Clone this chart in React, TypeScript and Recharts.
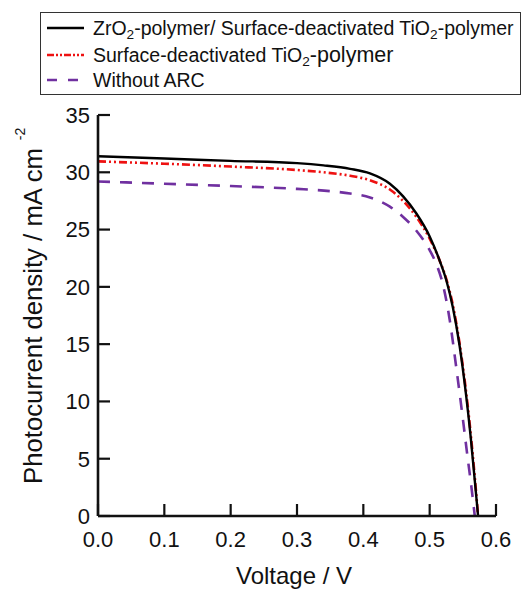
import React from 'react';
import { LineChart, Line, XAxis, YAxis, Legend } from 'recharts';

const vBlack = [0, 0.1, 0.2, 0.3, 0.34, 0.38, 0.41, 0.44, 0.46, 0.48, 0.5, 0.515, 0.525, 0.535, 0.545, 0.555, 0.562, 0.568, 0.573];
const jBlack = [31.4, 31.2, 31.0, 30.8, 30.6, 30.3, 29.9, 29.0, 27.9, 26.4, 24.4, 22.3, 20.6, 18.2, 14.9, 10.5, 6.8, 3.1, 0];

const vRed = [0, 0.1, 0.2, 0.3, 0.34, 0.38, 0.41, 0.44, 0.46, 0.48, 0.5, 0.515, 0.525, 0.535, 0.545, 0.555, 0.562, 0.568, 0.573];
const jRed = [30.95, 30.75, 30.5, 30.2, 30.0, 29.7, 29.3, 28.5, 27.5, 26.1, 24.2, 22.3, 20.7, 18.4, 15.1, 10.8, 7.1, 3.4, 0];

const vPurple = [0, 0.1, 0.2, 0.3, 0.35, 0.38, 0.41, 0.44, 0.46, 0.48, 0.5, 0.51, 0.52, 0.53, 0.54, 0.55, 0.557, 0.563, 0.568];
const jPurple = [29.2, 29.0, 28.8, 28.55, 28.35, 28.15, 27.8, 27.0, 26.1, 24.9, 23.2, 22.0, 20.2, 17.2, 13.0, 8.5, 5.2, 2.5, 0];

const xTicks = [0, 0.1, 0.2, 0.3, 0.4, 0.5, 0.6];
const yTicks = [0, 5, 10, 15, 20, 25, 30, 35];

const seriesNames = [
  'ZrO2-polymer/ Surface-deactivated TiO2-polymer',
  'Surface-deactivated TiO2-polymer',
  'Without ARC',
];

const build = (v: number[], j: number[]) => v.map((x, i) => ({ v: x, j: j[i] }));
const blackData = build(vBlack, jBlack);
const redData = build(vRed, jRed);
const purpleData = build(vPurple, jPurple);

const FONT = '"Liberation Sans", Arial, sans-serif';

const sub = (t: string) => <sub style={{ fontSize: '0.7em', verticalAlign: '-0.3em', lineHeight: 0 }}>{t}</sub>;

const legendRows = [
  { color: '#000', dash: undefined as string | undefined, label: <span>ZrO{sub('2')}-polymer/ Surface-deactivated TiO{sub('2')}-polymer</span> },
  { color: '#ee1111', dash: '7 2 2 2 2 2', label: <span>Surface-deactivated TiO{sub('2')}<span style={{ fontSize: 21.5 }}>-polymer</span></span> },
  { color: '#7030a0', dash: '10 11', label: <span>Without ARC</span> },
];

const renderLegend = () => (
  <div style={{ position: 'relative', width: 481, height: 83, border: '1.5px solid #333', boxSizing: 'border-box', fontFamily: FONT, fontSize: 19.5, color: '#111', background: '#fff' }}>
    {legendRows.map((r, i) => (
      <div key={i} style={{ position: 'absolute', left: 6, top: [15, 42, 67][i] - 13, height: 26, display: 'flex', alignItems: 'center', whiteSpace: 'nowrap' }}>
        <svg width={37} height={6} style={{ marginRight: 9 }}>
          <line x1={0} y1={3} x2={37} y2={3} stroke={r.color} strokeWidth={2.5} strokeDasharray={r.dash} />
        </svg>
        {r.label}
      </div>
    ))}
  </div>
);

const yLabel = () => (
  <g fontFamily={FONT} fill="#111">
    <text x={0} y={0} transform="translate(42,484) rotate(-90)" fontSize={25} textLength={336} lengthAdjust="spacingAndGlyphs">Photocurrent density / mA cm</text>
    <text x={0} y={0} transform="translate(25,134) rotate(-90)" fontSize={14} textAnchor="middle">-2</text>
  </g>
);

const xLabel = () => (
  <text x={294} y={584} fontFamily={FONT} fontSize={24} fill="#111" textAnchor="middle">Voltage / V</text>
);

export default function App() {
  return (
    <div style={{ position: 'absolute', left: 0, top: 0, width: 526, height: 590, background: '#fff' }}>
      <LineChart width={526} height={590} margin={{ top: 115, right: 30, bottom: 0, left: 0 }}>
        <XAxis
          xAxisId="b"
          dataKey="v"
          type="number"
          domain={[0, 0.6]}
          ticks={xTicks}
          allowDataOverflow
          height={74}
          tickFormatter={(t: number) => t.toFixed(1)}
          tickSize={-12}
          tickMargin={27}
          tickLine={{ stroke: '#111', strokeWidth: 2.2 }}
          axisLine={{ stroke: '#111', strokeWidth: 2.6 }}
          tick={{ fill: '#111', fontSize: 22, fontFamily: FONT }}
          label={xLabel}
        />
        <XAxis xAxisId="t" orientation="top" type="number" domain={[0, 0.6]} height={0} tick={false} tickLine={false} axisLine={{ stroke: '#111', strokeWidth: 2.6 }} />
        <YAxis
          yAxisId="l"
          type="number"
          domain={[0, 35]}
          ticks={yTicks}
          allowDataOverflow
          width={98}
          tickSize={-12}
          tickMargin={20}
          tickLine={{ stroke: '#111', strokeWidth: 2.2 }}
          axisLine={{ stroke: '#111', strokeWidth: 2.6 }}
          tick={{ fill: '#111', fontSize: 22, fontFamily: FONT }}
          label={yLabel}
        />
        <YAxis yAxisId="r" orientation="right" type="number" domain={[0, 35]} width={0} tick={false} tickLine={false} axisLine={{ stroke: '#111', strokeWidth: 2.6 }} />
        <Legend
          layout="horizontal"
          verticalAlign="middle"
          align="center"
          wrapperStyle={{ top: 12, left: 40, width: 481, height: 83 }}
          content={renderLegend}
        />
        <Line xAxisId="b" yAxisId="l" data={purpleData} dataKey="j" name={seriesNames[2]} type="monotone" stroke="#7030a0" strokeWidth={2.6} strokeDasharray="12 10" dot={false} isAnimationActive={false} />
        <Line xAxisId="b" yAxisId="l" data={redData} dataKey="j" name={seriesNames[1]} type="monotone" stroke="#ee1111" strokeWidth={2.6} strokeDasharray="8 3 2 3 2 3" dot={false} isAnimationActive={false} />
        <Line xAxisId="b" yAxisId="l" data={blackData} dataKey="j" name={seriesNames[0]} type="monotone" stroke="#000" strokeWidth={2.4} dot={false} isAnimationActive={false} />
      </LineChart>
    </div>
  );
}
